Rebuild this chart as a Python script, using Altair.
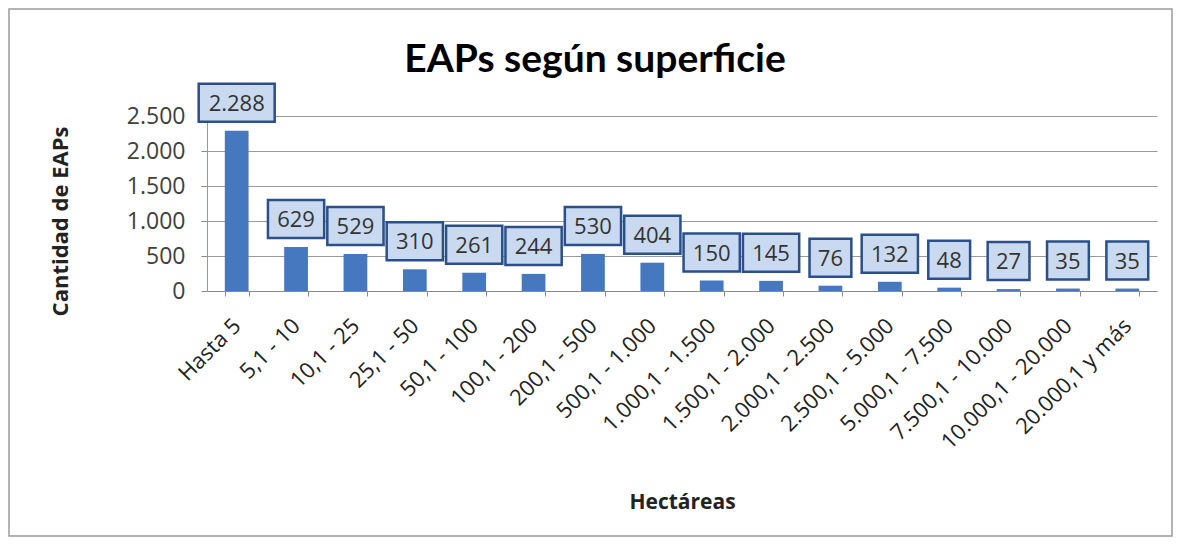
import altair as alt
import pandas as pd

categories = ["Hasta 5", "5,1 - 10", "10,1 - 25", "25,1 - 50", "50,1 - 100",
              "100,1 - 200", "200,1 - 500", "500,1 - 1.000", "1.000,1 - 1.500",
              "1.500,1 - 2.000", "2.000,1 - 2.500", "2.500,1 - 5.000",
              "5.000,1 - 7.500", "7.500,1 - 10.000", "10.000,1 - 20.000",
              "20.000,1 y más"]
values = [2288, 629, 529, 310, 261, 244, 530, 404, 150, 145, 76, 132, 48, 27, 35, 35]
labels = ["2.288", "629", "529", "310", "261", "244", "530", "404", "150", "145",
          "76", "132", "48", "27", "35", "35"]
title_text = ["EAPs según superficie"]

df = pd.DataFrame({"cat": categories, "val": values, "lab": labels})
df["len"] = df["lab"].str.len()

x = alt.X("cat:N", sort=categories, title="Hectáreas",
          scale=alt.Scale(paddingInner=0.6, paddingOuter=0.3),
          axis=alt.Axis(labelAngle=-45, labelAlign="right", labelBaseline="middle",
                        labelFontSize=22, labelFont="Open Sans", labelColor="#222222",
                        labelPadding=26, tickBand="extent", tickSize=5,
                        tickColor="#8a8a8a", domainColor="#8a8a8a",
                        titleFontSize=21, titleFont="Open Sans", titleFontWeight="bold",
                        titleColor="#222222", titleX=475, titleY=211,
                        titleAnchor="middle", titleBaseline="middle"))
y = alt.Y("val:Q", title="Cantidad de EAPs",
          scale=alt.Scale(domain=[0, 2500]),
          axis=alt.Axis(values=[0, 500, 1000, 1500, 2000, 2500],
                        labelExpr="replace(format(datum.value, ','), ',', '.')",
                        labelFontSize=23, labelFont="Open Sans", labelColor="#404040",
                        labelPadding=16, tickSize=6, tickColor="#8a8a8a",
                        domainColor="#8a9ab0", gridColor="#9a9a9a",
                        titleFontSize=22, titleFont="Open Sans", titleFontWeight="bold",
                        titleColor="#222222", titleX=-147, titleY=105,
                        titleAngle=-90, titleAnchor="middle", titleBaseline="middle"))

base = alt.Chart(df)

bars = base.mark_bar(color="#4678c0").encode(x=x, y=y)

box_paths = {
    2: "M-0.55,-0.5 L0.55,-0.5 L0.55,0.5 L-0.55,0.5 Z",
    3: "M-0.74,-0.5 L0.74,-0.5 L0.74,0.5 L-0.74,0.5 Z",
    5: "M-1,-0.5 L1,-0.5 L1,0.5 L-1,0.5 Z",
}
boxes = base.mark_point(filled=True, fill="#c9daf0", stroke="#2a4f8a",
                        strokeWidth=2.5, opacity=1, fillOpacity=1,
                        size=5776, yOffset=-28).encode(
    x=x, y=y,
    shape=alt.Shape("len:N", legend=None,
                    scale=alt.Scale(domain=[2, 3, 5],
                                    range=[box_paths[2], box_paths[3], box_paths[5]])))

texts = base.mark_text(fontSize=22, font="Open Sans", color="#333333",
                       dy=-27, baseline="middle", align="center").encode(
    x=x, y=y, text="lab:N")

frame = alt.Chart(pd.DataFrame({"a": [0]})).mark_rect(
    fill=None, stroke="#9a9a9a", strokeWidth=1.5).encode(
    x=alt.value(-198), x2=alt.value(965), y=alt.value(-107), y2=alt.value(420))

title = alt.Chart(pd.DataFrame({"t": title_text})).mark_text(
    font="Lato", fontSize=39, fontWeight="bold", color="#000000",
    align="center", baseline="alphabetic").encode(
    text="t:N", x=alt.value(388), y=alt.value(-44))

chart = alt.layer(frame, title, bars, boxes, texts).properties(
    width=950, height=175,
    autosize=alt.AutoSizeParams(type="none"),
    padding={"left": 199, "top": 108, "right": 16, "bottom": 247},
    background="white",
).configure_view(stroke=None)

chart.save("out.html", embed_options={"renderer": "svg", "actions": False})
